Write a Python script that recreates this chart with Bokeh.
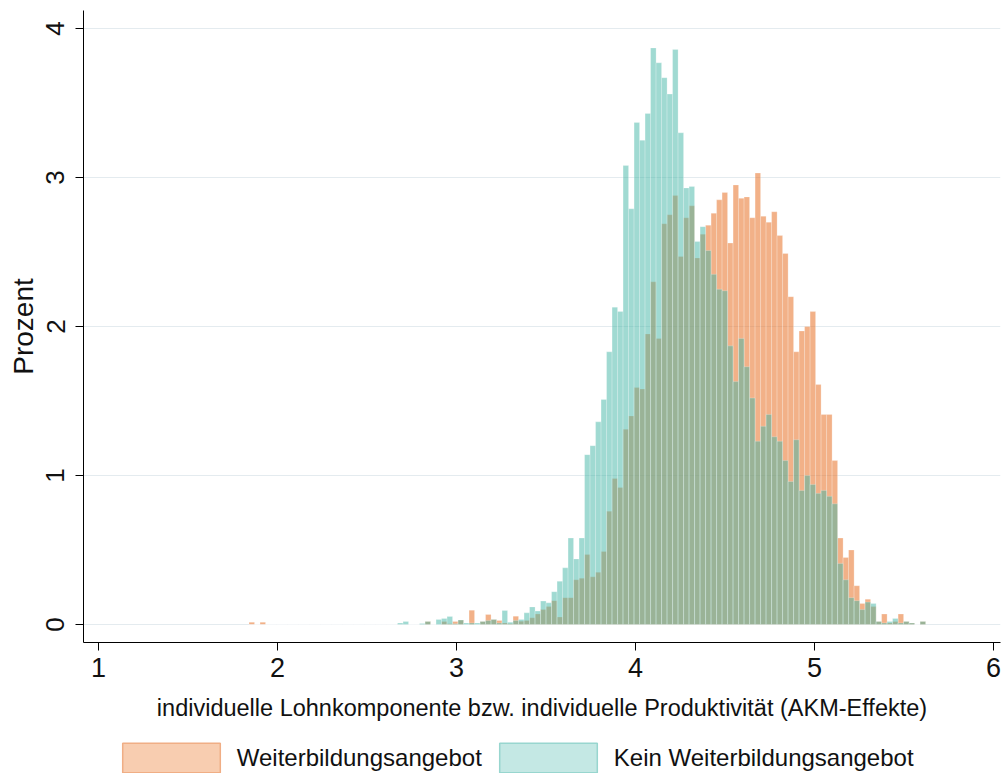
from bokeh.plotting import figure
from bokeh.layouts import column
from bokeh.models import ColumnDataSource, Legend, LegendItem, FixedTicker, Range1d
from bokeh.embed import file_html
from bokeh.resources import INLINE

# Histogram bins (shared by both groups)
bin_start = 1.8408
bin_width = 0.03073

# Percent per bin: Weiterbildungsangebot (orange)
weiterbildung = [
    0.015, 0, 0.015, 0, 0, 0, 0, 0, 0, 0,
    0, 0, 0, 0, 0, 0, 0, 0, 0, 0,
    0, 0, 0, 0, 0, 0, 0, 0, 0, 0,
    0, 0, 0.02, 0, 0, 0.02, 0.005, 0.02, 0.03, 0,
    0.096, 0, 0.02, 0.067, 0.033, 0.027, 0.01, 0.005, 0.056, 0.022,
    0.027, 0.045, 0.07, 0.10, 0.12, 0.16, 0.05, 0.18, 0.18, 0.30,
    0.31, 0.47, 0.32, 0.35, 0.49, 0.76, 0.98, 0.92, 1.31, 1.40,
    1.59, 1.58, 1.95, 2.30, 1.92, 2.69, 2.75, 2.88, 2.47, 2.73,
    2.81, 2.46, 2.62, 2.68, 2.76, 2.85, 2.90, 2.56, 2.95, 2.86,
    2.87, 2.73, 3.03, 2.74, 2.70, 2.77, 2.61, 2.49, 2.20, 1.83,
    1.97, 2.00, 2.10, 1.61, 1.41, 1.41, 1.10, 0.58, 0.45, 0.50,
    0.26, 0.14, 0.17, 0.12, 0.02, 0.07, 0.01, 0.02, 0.07, 0.02,
    0.01, 0, 0.02,
]

# Percent per bin: Kein Weiterbildungsangebot (teal)
kein_weiterbildung = [
    0, 0, 0, 0, 0, 0, 0, 0, 0, 0,
    0, 0, 0, 0, 0, 0, 0, 0, 0, 0,
    0, 0, 0, 0, 0, 0, 0, 0.01, 0.02, 0,
    0, 0.007, 0.02, 0, 0.034, 0.04, 0.054, 0.005, 0.03, 0.01,
    0.01, 0.01, 0.02, 0.027, 0.033, 0.01, 0.094, 0.015, 0.027, 0.034,
    0.078, 0.118, 0.09, 0.157, 0.145, 0.22, 0.29, 0.38, 0.58, 0.44,
    0.58, 1.14, 1.20, 1.36, 1.51, 1.83, 2.13, 2.10, 3.08, 2.79,
    3.37, 3.25, 3.43, 3.87, 3.77, 3.67, 3.56, 3.86, 3.30, 2.93,
    2.94, 2.57, 2.67, 2.51, 2.35, 2.25, 2.24, 1.87, 1.63, 1.92,
    1.73, 1.52, 1.23, 1.33, 1.41, 1.26, 1.23, 1.10, 0.96, 1.24,
    0.90, 1.00, 0.94, 0.88, 0.90, 0.86, 0.81, 0.41, 0.30, 0.18,
    0.16, 0.10, 0.15, 0.14, 0.02, 0.01, 0.02, 0.04, 0.01, 0.02,
    0.01, 0, 0.02,
]

x_ticks = [1, 2, 3, 4, 5, 6]
y_ticks = [0, 1, 2, 3, 4]
x_title = "individuelle Lohnkomponente bzw. individuelle Produktivität (AKM-Effekte)"
y_title = "Prozent"
labels = ["Weiterbildungsangebot", "Kein Weiterbildungsangebot"]

n = len(weiterbildung)
lefts = [bin_start + i * bin_width for i in range(n)]
rights = [l + bin_width for l in lefts]
src = ColumnDataSource(dict(left=lefts, right=rights,
                            w=weiterbildung, k=kein_weiterbildung,
                            zero=[0] * n))

FONT = "Liberation Sans"
TXT = "#111111"

p = figure(width=1002, height=729, output_backend="svg", toolbar_location=None,
           x_range=Range1d(0.916, 6.039), y_range=Range1d(-0.121, 4.121),
           min_border_left=83, min_border_right=2, min_border_top=10,
           min_border_bottom=87)
p.outline_line_color = None
p.background_fill_color = "white"
p.border_fill_color = "white"

p.quad(left="left", right="right", bottom="zero", top="w", source=src,
       fill_color="#E87126", fill_alpha=0.55,
       line_color="white", line_alpha=0.3, line_width=0.8)
p.quad(left="left", right="right", bottom="zero", top="k", source=src,
       fill_color="#41B5A5", fill_alpha=0.5,
       line_color="white", line_alpha=0.3, line_width=0.8)

# grid
p.xgrid.grid_line_color = None
p.ygrid.grid_line_color = "#E4EBEF"
p.ygrid.grid_line_width = 1.2
p.ygrid.ticker = FixedTicker(ticks=y_ticks)

# x axis
xa = p.xaxis[0]
xa.ticker = FixedTicker(ticks=x_ticks)
xa.axis_label = x_title
xa.axis_label_text_font = FONT
xa.axis_label_text_font_size = "23.5px"
xa.axis_label_text_font_style = "normal"
xa.axis_label_text_color = TXT
xa.axis_label_standoff = 15
xa.major_label_text_font = FONT
xa.major_label_text_font_size = "27px"
xa.major_label_text_color = TXT
xa.major_label_standoff = 7
xa.major_tick_out = 8
xa.major_tick_in = 0
xa.minor_tick_line_color = None
xa.axis_line_color = "black"
xa.major_tick_line_color = "black"

# y axis
ya = p.yaxis[0]
ya.ticker = FixedTicker(ticks=y_ticks)
ya.axis_label = y_title
ya.axis_label_text_font = FONT
ya.axis_label_text_font_size = "28px"
ya.axis_label_text_font_style = "normal"
ya.axis_label_text_color = TXT
ya.axis_label_standoff = 5
ya.major_label_text_font = FONT
ya.major_label_text_font_size = "26px"
ya.major_label_text_color = TXT
ya.major_label_orientation = "vertical"
ya.major_label_standoff = 11
ya.major_tick_out = 8
ya.major_tick_in = 0
ya.minor_tick_line_color = None
ya.axis_line_color = "black"
ya.major_tick_line_color = "black"

# legend strip below the chart (lighter key colours; the key glyphs use the
# histogram source, which lies outside this strip's ranges, so only the keys show)
lf = figure(width=1002, height=44, output_backend="svg", toolbar_location=None,
            x_range=Range1d(-2, -1), y_range=Range1d(-2, -1),
            x_axis_location=None, y_axis_location=None,
            min_border_left=0, min_border_right=0, min_border_top=0,
            min_border_bottom=0)
lf.outline_line_color = None
lf.xgrid.visible = False
lf.ygrid.visible = False
leg_o = lf.quad(left="left", right="right", bottom="zero", top="w", source=src,
                fill_color="#F8CDB0", line_color="#F0AE85", line_width=1.5)
leg_t = lf.quad(left="left", right="right", bottom="zero", top="k", source=src,
                fill_color="#C4E8E4", line_color="#98D6CF", line_width=1.5)
legend = Legend(items=[LegendItem(label=labels[0], renderers=[leg_o]),
                       LegendItem(label=labels[1], renderers=[leg_t])],
                orientation="horizontal", location=(26.75, -3),
                glyph_width=122, glyph_height=37, label_standoff=5, spacing=5,
                padding=0, margin=0, border_line_alpha=0,
                background_fill_alpha=0,
                label_text_font=FONT, label_text_font_size="24px",
                label_text_color=TXT)
lf.add_layout(legend)

layout = column(p, lf, spacing=0)
open("out.html", "w").write(file_html(layout, INLINE))
